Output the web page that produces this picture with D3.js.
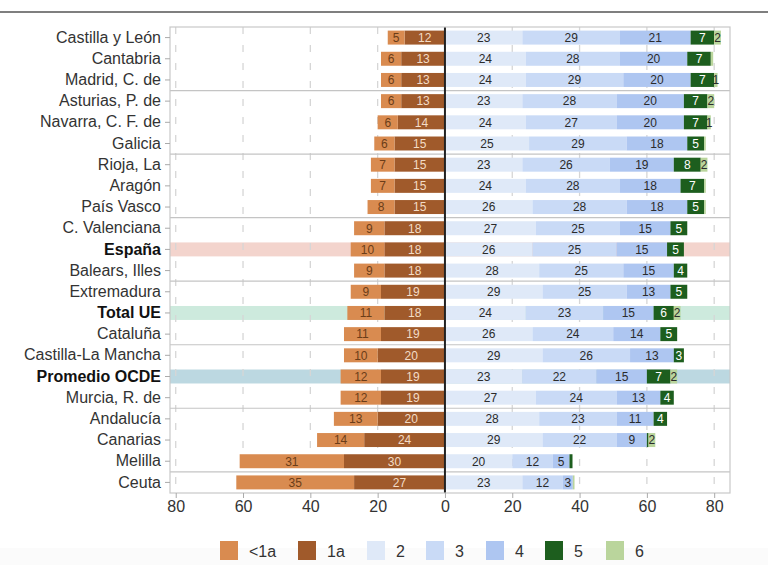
<!DOCTYPE html>
<html lang="es">
<head>
  <meta charset="UTF-8" />
  <title>Distribución por regiones</title>
  <style>
    body { margin: 0; background: #fff; }
    svg { display: block; font-family: "Liberation Sans", Arial, sans-serif; }
  </style>
</head>
<body>
  <svg width="768" height="565"></svg>

  <script src="https://d3js.org/d3.v7.min.js"></script>

  <script>
    // Categories (top to bottom)
    const regions = [
      'Castilla y León','Cantabria','Madrid, C. de','Asturias, P. de','Navarra, C. F. de','Galicia',
      'Rioja, La','Aragón','País Vasco','C. Valenciana','España','Balears, Illes',
      'Extremadura','Total UE','Cataluña','Castilla-La Mancha','Promedio OCDE','Murcia, R. de',
      'Andalucía','Canarias','Melilla','Ceuta'
    ];

    // Series values (percent)
    const lt1 = [5,6,6,6,6,6,7,7,8,9,10,9,9,11,11,10,12,12,13,14,31,35];
    const a1  = [12,13,13,13,14,15,15,15,15,18,18,18,19,18,19,20,19,19,20,24,30,27];
    const s2  = [23,24,24,23,24,25,23,24,26,27,26,28,29,24,26,29,23,27,28,29,20,23];
    const s3  = [29,28,29,28,27,29,26,28,28,25,25,25,25,23,24,26,22,24,23,22,12,12];
    const s4  = [21,20,20,20,20,18,19,18,18,15,15,15,13,15,14,13,15,13,11,9,5,3];
    const s5  = [7,7,7,7,7,5,8,7,5,5,5,4,5,6,5,3,7,4,4,0.5,0.9,0];
    const s6  = [2,0.7,1,2,1,0.5,2,0.5,0.5,0,0,0,0,2,0,0,2,0,0,2,0,0.5];

    const highlights = { 'España': '#f3d4cd', 'Total UE': '#cdeadd', 'Promedio OCDE': '#bcd8e1' };

    const xTicks = [-80,-60,-40,-20,0,20,40,60,80];

    const legendKeys = ['<1a','1a','2','3','4','5','6'];
    const colors = {
      lt1: '#d98b50', a1: '#a05a2b', s2: '#dfe9f8', s3: '#c9daf6',
      s4: '#aec6f1', s5: '#1d5e1e', s6: '#bad59c'
    };
    const textColors = {
      lt1: '#6b3d18', a1: '#f3dcc6', s2: '#2b2b2b', s3: '#2b2b2b',
      s4: '#2b2b2b', s5: '#fff', s6: '#2b2b2b'
    };

    const table = regions.map((r, i) => ({
      region: r, lt1: lt1[i], a1: a1[i], s2: s2[i], s3: s3[i], s4: s4[i], s5: s5[i], s6: s6[i]
    }));

    const svg = d3.select('svg');
    const font = '"Liberation Sans", Arial, sans-serif';

    // very faint grey strip at the bottom
    svg.append('rect').attr('x', 0).attr('y', 548).attr('width', 768).attr('height', 17).attr('fill', '#fbfbfb');

    // top rule
    svg.append('line').attr('x1', 0).attr('x2', 768).attr('y1', 12).attr('y2', 12)
      .attr('stroke', '#555').attr('stroke-width', 1.5);

    const x = d3.scaleLinear().domain([-81.7, 84.7]).range([170, 730]);
    const y = d3.scaleBand().domain(regions).range([27, 493]).paddingInner(0.34).paddingOuter(0.17);
    const step = y.step();

    // highlight bands
    svg.append('g').selectAll('rect')
      .data(regions.filter(r => highlights[r]))
      .join('rect')
      .attr('x', x.range()[0]).attr('width', x.range()[1] - x.range()[0])
      .attr('y', d => y(d)).attr('height', y.bandwidth())
      .attr('fill', d => highlights[d]);

    // dashed grid
    svg.append('g').selectAll('line')
      .data(xTicks.filter(d => d !== 0))
      .join('line')
      .attr('x1', d => x(d)).attr('x2', d => x(d))
      .attr('y1', 27).attr('y2', 493)
      .attr('stroke', '#d6d6d6').attr('stroke-width', 1.3)
      .attr('stroke-dasharray', '7,11');

    // group separators (every 3 rows)
    svg.append('g').selectAll('line')
      .data(regions.filter((r, i) => i > 0 && i % 3 === 0))
      .join('line')
      .attr('x1', 170).attr('x2', 730)
      .attr('y1', d => y(d) - step * 0.17).attr('y2', d => y(d) - step * 0.17)
      .attr('stroke', '#c4c4c4').attr('stroke-width', 1.2);

    // stacks
    const posKeys = ['s2','s3','s4','s5','s6'];
    const negKeys = ['a1','lt1'];
    const posStack = d3.stack().keys(posKeys)(table);
    const negStack = d3.stack().keys(negKeys).value((d, k) => -d[k]).offset(d3.stackOffsetDiverging)(table);
    const layers = negStack.concat(posStack);

    const segs = [];
    layers.forEach(layer => {
      layer.forEach(p => {
        const v = p.data[layer.key];
        if (v > 0) segs.push({ key: layer.key, region: p.data.region, v0: Math.min(p[0], p[1]), v1: Math.max(p[0], p[1]), value: v });
      });
    });

    const bars = svg.append('g');
    bars.selectAll('rect')
      .data(segs)
      .join('rect')
      .attr('x', d => x(d.v0))
      .attr('width', d => x(d.v1) - x(d.v0))
      .attr('y', d => y(d.region))
      .attr('height', y.bandwidth())
      .attr('fill', d => colors[d.key]);

    bars.selectAll('text')
      .data(segs.filter(d => d.value >= 1))
      .join('text')
      .attr('x', d => (x(d.v0) + x(d.v1)) / 2)
      .attr('y', d => y(d.region) + y.bandwidth() / 2)
      .attr('dy', '0.36em')
      .attr('text-anchor', 'middle')
      .attr('font-size', 12)
      .attr('fill', d => textColors[d.key])
      .text(d => Math.round(d.value));

    // zero line
    svg.append('line').attr('x1', x(0)).attr('x2', x(0)).attr('y1', 27).attr('y2', 493)
      .attr('stroke', '#222').attr('stroke-width', 2);

    // frame
    svg.append('rect').attr('x', 170).attr('y', 27).attr('width', 560).attr('height', 466)
      .attr('fill', 'none').attr('stroke', '#c8c8c8').attr('stroke-width', 1.2);

    // x axis
    const xAxis = svg.append('g').attr('transform', 'translate(0,493)')
      .call(d3.axisBottom(x).tickValues(xTicks).tickFormat(d => Math.abs(d)).tickSize(5).tickPadding(3));
    xAxis.select('.domain').remove();
    xAxis.selectAll('line').attr('stroke', '#aaa');
    xAxis.selectAll('text').attr('font-size', 16).attr('fill', '#333').attr('font-family', font);

    // y axis
    const yAxis = svg.append('g').attr('transform', 'translate(170,0)')
      .call(d3.axisLeft(y).tickSize(5).tickPadding(4));
    yAxis.select('.domain').remove();
    yAxis.selectAll('line').attr('stroke', '#aaa');
    yAxis.selectAll('text')
      .attr('font-size', 16)
      .attr('font-family', font)
      .attr('fill', d => highlights[d] ? '#111' : '#333')
      .attr('font-weight', d => highlights[d] ? 'bold' : 'normal');

    // legend
    const legendFill = [colors.lt1, colors.a1, colors.s2, colors.s3, colors.s4, colors.s5, colors.s6];
    const legendX = [220, 298, 367, 426, 486, 545, 606];
    const lg = svg.append('g').selectAll('g')
      .data(legendKeys)
      .join('g')
      .attr('transform', (d, i) => `translate(${legendX[i]},541)`);
    lg.append('rect').attr('width', 18).attr('height', 19).attr('fill', (d, i) => legendFill[i]);
    lg.append('text').attr('x', 29).attr('y', 10).attr('dy', '0.36em')
      .attr('font-size', 16).attr('fill', '#333').attr('font-family', font).text(d => d);
  </script>
</body>
</html>
